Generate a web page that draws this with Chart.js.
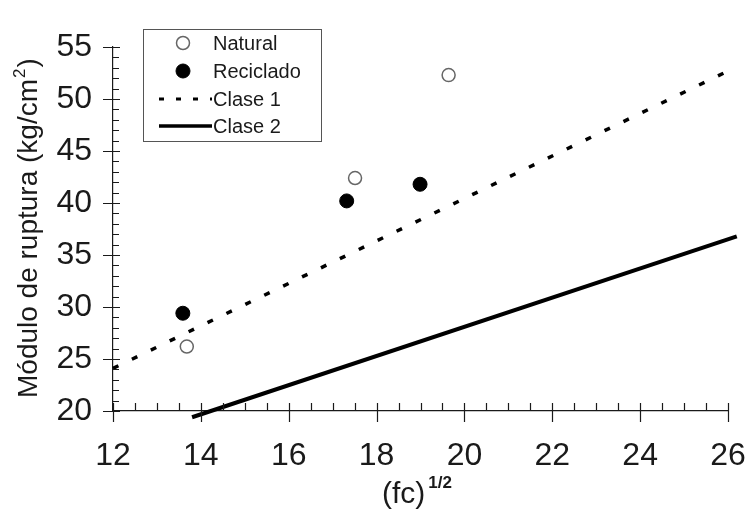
<!DOCTYPE html>
<html>
<head>
<meta charset="utf-8">
<script src="https://cdn.jsdelivr.net/npm/chart.js@4.4.0/dist/chart.umd.min.js"></script>
<style>
  body { margin: 0; background: #fff; }
  #wrap { width: 745px; height: 516px; }
</style>
</head>
<body>
<div id="wrap"><canvas id="chart" width="745" height="516"></canvas></div>
<script>
// values
const naturalX = [13.68, 17.51, 19.64];
const naturalY = [26.2, 42.4, 52.3];
const recicladoX = [13.59, 17.32, 18.99];
const recicladoY = [29.4, 40.2, 41.8];
const clase1X = [12, 26.2];
const clase1Y = [24.1, 53.1];
const clase2X = [13.8, 26.2];
const clase2Y = [19.4, 36.8];
const xTicks = [12, 14, 16, 18, 20, 22, 24, 26];
const yTicks = [20, 25, 30, 35, 40, 45, 50, 55];

const FONT = '"Liberation Sans", Arial, sans-serif';
const INK = '#1a1a1a';

function pts(xs, ys) {
    return xs.map((x, i) => ({ x: x, y: ys[i] }));
}

// crossing tick marks, major and minor
const axisTicks = {
    id: 'axisTicks',
    afterDraw(chart) {
        const { ctx, chartArea: a, scales: { x, y } } = chart;
        ctx.save();
        ctx.strokeStyle = INK;
        ctx.lineWidth = 1.2;
        ctx.beginPath();
        for (let v = xTicks[0]; v <= xTicks[xTicks.length - 1] + 1e-6; v += 0.5) {
            const px = Math.round(x.getPixelForValue(v)) + 0.5;
            const major = xTicks.some(t => Math.abs(t - v) < 1e-6);
            ctx.moveTo(px, a.bottom - 8);
            ctx.lineTo(px, major ? a.bottom + 11 : a.bottom);
        }
        for (let v = yTicks[0]; v <= yTicks[yTicks.length - 1] + 1e-6; v += 1) {
            const py = Math.round(y.getPixelForValue(v)) + 0.5;
            const major = yTicks.includes(v);
            ctx.moveTo(major ? a.left - 10 : a.left, py);
            ctx.lineTo(a.left + (major ? 7 : 6), py);
        }
        ctx.stroke();
        ctx.restore();
    }
};

// axis titles with superscripts
const axisTitles = {
    id: 'axisTitles',
    afterDraw(chart) {
        const ctx = chart.ctx;
        ctx.save();
        ctx.fillStyle = INK;
        ctx.textBaseline = 'alphabetic';

        // x title
        ctx.font = '30px ' + FONT;
        const xt = '(fc)';
        ctx.fillText(xt, 382, 503);
        const w = ctx.measureText(xt).width;
        ctx.font = 'bold 17px ' + FONT;
        ctx.fillText('1/2', 382 + w + 3, 488);

        // y title
        ctx.translate(37, 398);
        ctx.rotate(-Math.PI / 2);
        ctx.font = '28px ' + FONT;
        const yt = 'Módulo de ruptura (kg/cm';
        ctx.fillText(yt, 0, 0);
        let off = ctx.measureText(yt).width;
        ctx.font = '17px ' + FONT;
        ctx.fillText('2', off + 1, -12);
        off += ctx.measureText('2').width + 2;
        ctx.font = '28px ' + FONT;
        ctx.fillText(')', off, 0);
        ctx.restore();
    }
};

// legend box inside the plot
const legendBox = {
    id: 'legendBox',
    afterDraw(chart) {
        const ctx = chart.ctx;
        const rows = [43, 71, 99, 126];
        ctx.save();
        ctx.fillStyle = '#fff';
        ctx.fillRect(143.5, 29.5, 178, 112);
        ctx.strokeStyle = '#555';
        ctx.lineWidth = 1;
        ctx.strokeRect(143.5, 29.5, 178, 112);
        ctx.font = '20px ' + FONT;
        ctx.textBaseline = 'middle';
        chart.data.datasets.forEach((ds, i) => {
            const yy = rows[i];
            if (ds.showLine) {
                ctx.beginPath();
                ctx.setLineDash(ds.legendDash || []);
                ctx.strokeStyle = ds.borderColor;
                ctx.lineWidth = ds.borderWidth - 0.5;
                ctx.moveTo(159, yy);
                ctx.lineTo(212, yy);
                ctx.stroke();
                ctx.setLineDash([]);
            } else {
                ctx.beginPath();
                ctx.arc(183, yy, ds.pointRadius, 0, Math.PI * 2);
                ctx.fillStyle = ds.pointBackgroundColor;
                ctx.fill();
                ctx.lineWidth = ds.pointBorderWidth;
                ctx.strokeStyle = ds.pointBorderColor;
                ctx.stroke();
            }
            ctx.fillStyle = INK;
            ctx.fillText(ds.label, 213, yy + 1);
        });
        ctx.restore();
    }
};

const ctx = document.getElementById('chart').getContext('2d');
const chart = new Chart(ctx, {
    type: 'scatter',
    data: {
        datasets: [{
            label: 'Natural',
            data: pts(naturalX, naturalY),
            pointRadius: 6.5,
            pointBackgroundColor: '#fff',
            pointBorderColor: '#666',
            pointBorderWidth: 1.5,
            order: 0,
        }, {
            label: 'Reciclado',
            data: pts(recicladoX, recicladoY),
            pointRadius: 7,
            pointBackgroundColor: '#000',
            pointBorderColor: '#000',
            pointBorderWidth: 1,
            order: 1,
        }, {
            label: 'Clase 1',
            data: pts(clase1X, clase1Y),
            showLine: true,
            borderColor: '#000',
            borderWidth: 3.5,
            borderDash: [6, 15],
            legendDash: [5, 12],
            pointRadius: 0,
            clip: false,
            order: 2,
        }, {
            label: 'Clase 2',
            data: pts(clase2X, clase2Y),
            showLine: true,
            borderColor: '#000',
            borderWidth: 4,
            pointRadius: 0,
            clip: false,
            order: 3,
        }]
    },
    options: {
        responsive: false,
        animation: false,
        layout: {
            padding: { top: 47, right: 17, left: 0, bottom: 0 }
        },
        plugins: {
            legend: { display: false },
            tooltip: { enabled: false }
        },
        scales: {
            x: {
                type: 'linear',
                min: xTicks[0],
                max: xTicks[xTicks.length - 1],
                afterBuildTicks: (scale) => { scale.ticks = xTicks.map(v => ({ value: v })); },
                afterFit: (scale) => {
                    scale.height = 105;
                    scale.paddingRight = 0;
                    scale.paddingLeft = 0;
                },
                ticks: {
                    color: INK,
                    padding: 26,
                    maxRotation: 0,
                    autoSkip: false,
                    font: { family: FONT, size: 32 }
                },
                grid: { drawOnChartArea: false, drawTicks: false },
                border: { color: INK, width: 1.2 }
            },
            y: {
                type: 'linear',
                min: yTicks[0],
                max: yTicks[yTicks.length - 1],
                afterBuildTicks: (scale) => { scale.ticks = yTicks.map(v => ({ value: v })); },
                afterFit: (scale) => {
                    scale.width = 113;
                    scale.paddingTop = 0;
                    scale.paddingBottom = 0;
                },
                ticks: {
                    color: INK,
                    padding: 21,
                    autoSkip: false,
                    font: { family: FONT, size: 32 }
                },
                grid: { drawOnChartArea: false, drawTicks: false },
                border: { color: INK, width: 1.2 }
            }
        }
    },
    plugins: [axisTicks, axisTitles, legendBox]
});
</script>
</body>
</html>
